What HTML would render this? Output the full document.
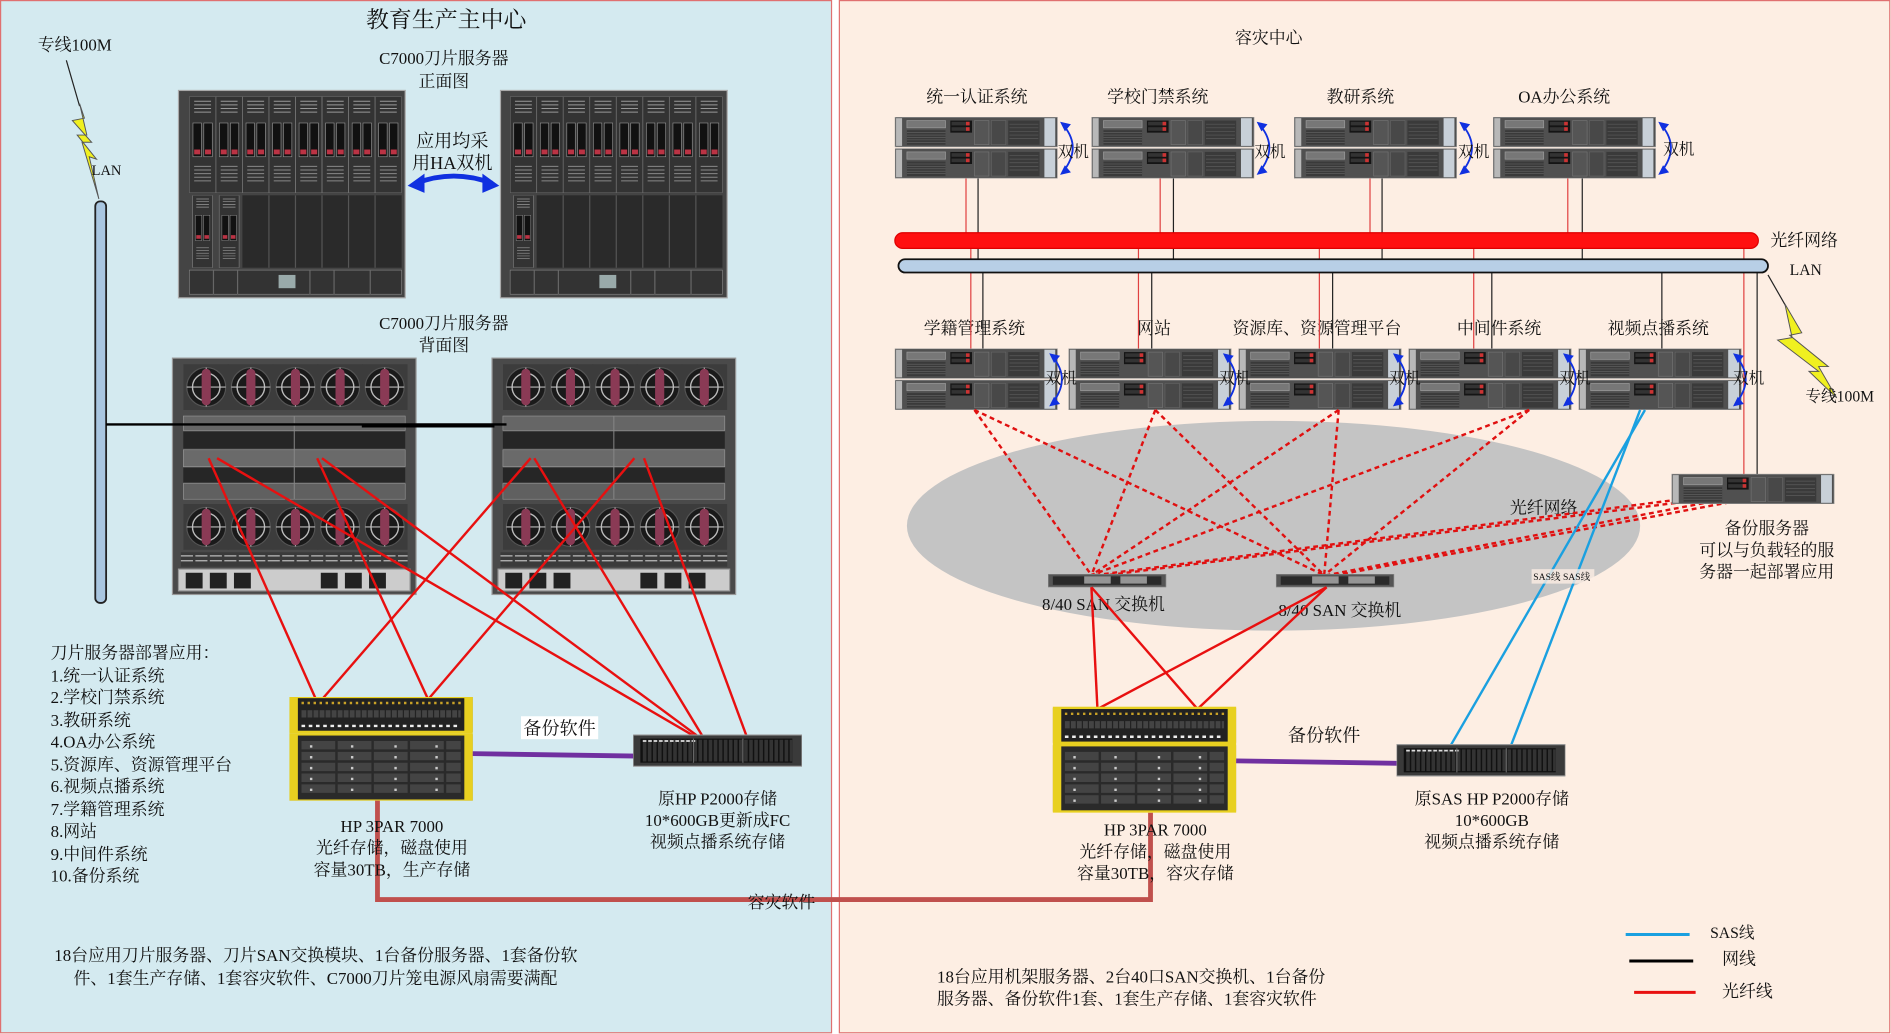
<!DOCTYPE html>
<html><head><meta charset="utf-8"><style>
html,body{margin:0;padding:0;background:#fff}
svg{display:block}
text{font-family:"Liberation Serif","Noto Serif CJK SC",serif;fill:#111}
</style></head><body>
<svg width="1891" height="1034" viewBox="0 0 1568 857.5" preserveAspectRatio="none" xmlns="http://www.w3.org/2000/svg">
<defs>
<symbol id="srv" viewBox="0 0 135 25">
<rect x="0" y="0" width="135" height="25" fill="#505050" stroke="#9a9a9a" stroke-width="1"/>
<rect x="1" y="1" width="5" height="23" fill="#b8b8b8"/>
<rect x="10" y="3" width="32" height="6" fill="#777" stroke="#999" stroke-width="0.6"/>
<rect x="10" y="11" width="32" height="12" fill="#3a3a3a"/>
<path d="M10 13h32M10 15h32M10 17h32M10 19h32M10 21h32" stroke="#666" stroke-width="0.5"/>
<rect x="46" y="3" width="18" height="10" fill="#151515"/>
<rect x="47" y="4" width="15" height="3" fill="#333"/><rect x="59" y="4" width="3" height="3" fill="#c33"/>
<rect x="47" y="8.5" width="15" height="3" fill="#333"/><rect x="59" y="8.5" width="3" height="3" fill="#c33"/>
<rect x="66" y="3" width="12" height="20" fill="#555" stroke="#777" stroke-width="0.5"/>
<rect x="80" y="3" width="12" height="20" fill="#484848" stroke="#666" stroke-width="0.5"/>
<rect x="94" y="3" width="26" height="20" fill="#3a3a3a"/>
<path d="M95 6h24M95 9h24M95 12h24M95 15h24M95 18h24" stroke="#5a5a5a" stroke-width="0.6"/>
<rect x="124" y="1" width="9" height="23" fill="#c8d0d8"/>
</symbol>
<symbol id="pair" viewBox="0 0 135 51">
<use href="#srv" x="0" y="0" width="135" height="25"/>
<use href="#srv" x="0" y="26" width="135" height="25"/>
</symbol>
<symbol id="fan" viewBox="0 0 40 40">
<rect width="40" height="40" fill="#3c3c3c"/>
<circle cx="20" cy="20" r="17" fill="#1a1a1a" stroke="#555"/>
<circle cx="20" cy="20" r="12" fill="none" stroke="#bbb" stroke-width="1.2"/>
<path d="M3 20h34M20 3v34" stroke="#bbb" stroke-width="1"/>
<rect x="16" y="4" width="8" height="32" rx="4" fill="#8a3a55"/>
</symbol>
<symbol id="blade" viewBox="0 0 22 80">
<rect width="22" height="80" fill="#333" stroke="#888" stroke-width="0.6"/>
<path d="M4 4h14M4 7h14M4 10h14M4 13h14" stroke="#999" stroke-width="0.8"/>
<rect x="3" y="22" width="7" height="28" fill="#111" stroke="#999" stroke-width="0.5"/>
<rect x="12" y="22" width="7" height="28" fill="#111" stroke="#999" stroke-width="0.5"/>
<rect x="4" y="44" width="5" height="4" fill="#b34"/><rect x="13" y="44" width="5" height="4" fill="#b34"/>
<path d="M4 58h14M4 61h14M4 64h14M4 67h14M4 70h14" stroke="#888" stroke-width="0.8"/>
</symbol>
<symbol id="tpar" viewBox="0 0 152 86">
<rect x="0" y="0" width="152" height="29" fill="#222" stroke="#e8d020" stroke-width="2"/>
<rect x="0" y="0" width="7" height="29" fill="#e8d020"/><rect x="145" y="0" width="7" height="29" fill="#e8d020"/>
<path d="M10 5h132" stroke="#c9a227" stroke-width="2" stroke-dasharray="2 3"/>
<path d="M10 14h132" stroke="#444" stroke-width="6" stroke-dasharray="4 1"/>
<path d="M10 24h132" stroke="#eee" stroke-width="2" stroke-dasharray="3 3"/>
<rect x="0" y="31" width="152" height="55" fill="#2a2a2a" stroke="#e8d020" stroke-width="2"/>
<rect x="0" y="31" width="7" height="55" fill="#e8d020"/><rect x="145" y="31" width="7" height="55" fill="#e8d020"/>
<path d="M10 40h132M10 49h132M10 58h132M10 67h132M10 76h132" stroke="#444" stroke-width="7" stroke-dasharray="28 2"/>
<path d="M18 40v40M52 40v40M88 40v40M122 40v40" stroke="#ccc" stroke-width="2" stroke-dasharray="2 7"/>
</symbol>
<symbol id="p2k" viewBox="0 0 140 26">
<rect width="140" height="26" fill="#3a3a3a" stroke="#999"/>
<rect x="6" y="3" width="126" height="20" fill="#111"/>
<path d="M8 13h124" stroke="#333" stroke-width="18" stroke-dasharray="3 1.2"/>
<path d="M8 5h44" stroke="#ddd" stroke-width="1.5" stroke-dasharray="3 1.5"/>
<path d="M50 3v20M91 3v20" stroke="#666"/>
</symbol>
<symbol id="sw" viewBox="0 0 98 11">
<rect width="98" height="11" fill="#555" stroke="#888"/>
<rect x="4" y="2" width="90" height="7" fill="#2a2a2a"/>
<rect x="30" y="2" width="22" height="6" fill="#ddd" opacity="0.6"/>
<rect x="60" y="2" width="22" height="6" fill="#ddd" opacity="0.6"/>
</symbol>
</defs>

<rect x="0.5" y="0.5" width="689" height="856" fill="#d4eaf0" stroke="#e07070" stroke-width="1"/>
<rect x="696" y="0.5" width="871" height="856" fill="#fdeee3" stroke="#e07070" stroke-width="1"/>

<text x="370" y="23" font-size="19" text-anchor="middle">教育生产主中心</text>
<text x="62" y="42" font-size="14" text-anchor="middle">专线100M</text>
<line x1="55" y1="50" x2="66" y2="88" stroke="#222" stroke-width="1"/>
<polygon points="66,86 72,112 64,112 80,132 74,130 82,165 68,118 76,118 60,100 70,98" fill="#f0f020" stroke="#555" stroke-width="0.8"/>
<text x="76" y="145" font-size="12">LAN</text>
<rect x="79" y="167" width="9" height="333" rx="4" fill="#a9c6e0" stroke="#222" stroke-width="1.5"/>

<text x="368" y="53" font-size="14" text-anchor="middle">C7000刀片服务器</text>
<text x="368" y="72" font-size="14" text-anchor="middle">正面图</text>
<text x="375" y="122" font-size="15" text-anchor="middle">应用均采</text>
<text x="375" y="140" font-size="15" text-anchor="middle">用HA双机</text>
<path d="M345 152 Q376 140 408 152" fill="none" stroke="#1030e0" stroke-width="4"/>
<polygon points="338,154 352,144 352,160" fill="#1030e0"/>
<polygon points="414,154 400,144 400,160" fill="#1030e0"/>

<g>
<rect x="148" y="75" width="188" height="172" fill="#444" stroke="#aaa"/>
<g transform="translate(157,80)">
<use href="#blade" x="0" width="22" height="80"/><use href="#blade" x="22" width="22" height="80"/><use href="#blade" x="44" width="22" height="80"/><use href="#blade" x="66" width="22" height="80"/><use href="#blade" x="88" width="22" height="80"/><use href="#blade" x="110" width="22" height="80"/><use href="#blade" x="132" width="22" height="80"/><use href="#blade" x="154" width="22" height="80"/>
<use href="#blade" x="0" y="82" width="22" height="60"/><use href="#blade" x="22" y="82" width="22" height="60"/>
<rect x="44" y="82" width="132" height="60" fill="#2a2a2a"/>
<path d="M66 82v60M88 82v60M110 82v60M132 82v60M154 82v60" stroke="#555"/>
<rect x="0" y="144" width="176" height="20" fill="#333" stroke="#888" stroke-width="0.5"/>
<path d="M20 144v20M40 144v20M100 144v20M120 144v20M150 144v20" stroke="#666"/>
<rect x="74" y="148" width="14" height="11" fill="#9aa"/>
</g>
</g>
<g>
<rect x="415" y="75" width="188" height="172" fill="#444" stroke="#aaa"/>
<g transform="translate(423,80)">
<use href="#blade" x="0" width="22" height="80"/><use href="#blade" x="22" width="22" height="80"/><use href="#blade" x="44" width="22" height="80"/><use href="#blade" x="66" width="22" height="80"/><use href="#blade" x="88" width="22" height="80"/><use href="#blade" x="110" width="22" height="80"/><use href="#blade" x="132" width="22" height="80"/><use href="#blade" x="154" width="22" height="80"/>
<use href="#blade" x="0" y="82" width="22" height="60"/>
<rect x="22" y="82" width="154" height="60" fill="#2a2a2a"/>
<path d="M44 82v60M66 82v60M88 82v60M110 82v60M132 82v60M154 82v60" stroke="#555"/>
<rect x="0" y="144" width="176" height="20" fill="#333" stroke="#888" stroke-width="0.5"/>
<path d="M20 144v20M40 144v20M100 144v20M120 144v20M150 144v20" stroke="#666"/>
<rect x="74" y="148" width="14" height="11" fill="#9aa"/>
</g>
</g>

<text x="368" y="273" font-size="14" text-anchor="middle">C7000刀片服务器</text>
<text x="368" y="291" font-size="14" text-anchor="middle">背面图</text>

<g id="bk1">
<rect x="143" y="297" width="202" height="196" fill="#4a4a4a" stroke="#999"/>
<g transform="translate(152,302)">
<use href="#fan" x="0" width="38" height="38"/><use href="#fan" x="37" width="38" height="38"/><use href="#fan" x="74" width="38" height="38"/><use href="#fan" x="111" width="38" height="38"/><use href="#fan" x="148" width="38" height="38"/>
</g>
<rect x="152" y="345" width="184" height="12" fill="#666" stroke="#999" stroke-width="0.5"/>
<rect x="152" y="358" width="184" height="14" fill="#262626"/>
<rect x="152" y="373" width="184" height="14" fill="#6a6a6a" stroke="#999" stroke-width="0.5"/>
<rect x="152" y="388" width="184" height="12" fill="#262626"/>
<rect x="152" y="401" width="184" height="13" fill="#606060" stroke="#999" stroke-width="0.5"/>
<line x1="244" y1="345" x2="244" y2="414" stroke="#888" stroke-width="0.8"/>
<g transform="translate(152,418)">
<use href="#fan" x="0" width="38" height="38"/><use href="#fan" x="37" width="38" height="38"/><use href="#fan" x="74" width="38" height="38"/><use href="#fan" x="111" width="38" height="38"/><use href="#fan" x="148" width="38" height="38"/>
</g>
<rect x="150" y="458" width="188" height="12" fill="#3a3a3a"/>
<path d="M150 461h188M150 465h188" stroke="#bbb" stroke-width="1" stroke-dasharray="10 2"/>
<rect x="148" y="472" width="192" height="18" fill="#ccc" stroke="#999"/>
<rect x="154" y="475" width="14" height="13" fill="#222"/><rect x="174" y="475" width="14" height="13" fill="#222"/><rect x="194" y="475" width="14" height="13" fill="#222"/>
<rect x="266" y="475" width="14" height="13" fill="#222"/><rect x="286" y="475" width="14" height="13" fill="#222"/><rect x="306" y="475" width="14" height="13" fill="#222"/>
</g>
<use href="#bk1" transform="translate(265,0)"/>

<line x1="88" y1="352" x2="420" y2="352" stroke="#000" stroke-width="2"/>
<line x1="300" y1="353" x2="410" y2="353" stroke="#000" stroke-width="3"/>

<g stroke="#e81010" stroke-width="2" fill="none">
<line x1="173" y1="380" x2="262" y2="580"/>
<line x1="263" y1="380" x2="355" y2="580"/>
<line x1="440" y1="380" x2="267" y2="580"/>
<line x1="526" y1="380" x2="355" y2="580"/>
<line x1="180" y1="380" x2="580" y2="613"/>
<line x1="267" y1="380" x2="582" y2="613"/>
<line x1="443" y1="380" x2="584" y2="613"/>
<line x1="534" y1="380" x2="620" y2="613"/>
</g>

<use href="#tpar" x="240" y="578" width="152" height="86"/>
<line x1="392" y1="625" x2="527" y2="627" stroke="#7030a0" stroke-width="4"/>
<rect x="432" y="594" width="64" height="19" fill="#fff"/>
<text x="464" y="609" font-size="15" text-anchor="middle">备份软件</text>
<use href="#p2k" x="525" y="609" width="140" height="27"/>
<text x="595" y="667" font-size="14" text-anchor="middle">原HP P2000存储</text>
<text x="595" y="685" font-size="14" text-anchor="middle">10*600GB更新成FC</text>
<text x="595" y="703" font-size="14" text-anchor="middle">视频点播系统存储</text>

<path d="M313 664 V746 H954 V674" fill="none" stroke="#c0504d" stroke-width="4"/>
<text x="325" y="690" font-size="14" text-anchor="middle">HP 3PAR 7000</text>
<text x="325" y="708" font-size="14" text-anchor="middle">光纤存储，磁盘使用</text>
<text x="325" y="726" font-size="14" text-anchor="middle">容量30TB，生产存储</text>
<text x="648" y="753" font-size="14" text-anchor="middle">容灾软件</text>

<g font-size="14">
<text x="42" y="546">刀片服务器部署应用：</text>
<text x="42" y="565">1.统一认证系统</text>
<text x="42" y="583">2.学校门禁系统</text>
<text x="42" y="602">3.教研系统</text>
<text x="42" y="620">4.OA办公系统</text>
<text x="42" y="639">5.资源库、资源管理平台</text>
<text x="42" y="657">6.视频点播系统</text>
<text x="42" y="676">7.学籍管理系统</text>
<text x="42" y="694">8.网站</text>
<text x="42" y="713">9.中间件系统</text>
<text x="42" y="731">10.备份系统</text>
<text x="45" y="797">18台应用刀片服务器、刀片SAN交换模块、1台备份服务器、1套备份软</text>
<text x="61" y="816">件、1套生产存储、1套容灾软件、C7000刀片笼电源风扇需要满配</text>
</g>

<text x="1052" y="36" font-size="14" text-anchor="middle">容灾中心</text>
<g font-size="14" text-anchor="middle">
<text x="810" y="85">统一认证系统</text>
<text x="960" y="85">学校门禁系统</text>
<text x="1128" y="85">教研系统</text>
<text x="1297" y="85">OA办公系统</text>
<text x="808" y="277">学籍管理系统</text>
<text x="957" y="277">网站</text>
<text x="1092" y="277">资源库、资源管理平台</text>
<text x="1243" y="277">中间件系统</text>
<text x="1375" y="277">视频点播系统</text>
</g>

<g stroke-width="1">
<path d="M801 148V199M962 148V199M1136 148V199M1300 148V199" stroke="#e04040"/>
<path d="M811 148V221M973 148V221M1146 148V221M1312 148V221" stroke="#222"/>
<path d="M805 205V300M944 205V300M1094 205V300M1222 205V300M1446 205V395" stroke="#e04040"/>
<path d="M815 226V300M955 226V300M1105 226V300M1237 226V300M1378 226V300M1457 226V395" stroke="#222"/>
</g>
<rect x="742" y="193" width="716" height="13" rx="6.5" fill="#ff1010" stroke="#d00" stroke-width="1"/>
<rect x="745" y="215" width="721" height="11" rx="5.5" fill="#b8cfe6" stroke="#111" stroke-width="1.5"/>
<text x="1468" y="204" font-size="14">光纤网络</text>
<text x="1484" y="228" font-size="13">LAN</text>
<line x1="1466" y1="228" x2="1482" y2="256" stroke="#222" stroke-width="1"/>
<polygon points="1480,252 1494,276 1484,278 1516,304 1508,304 1523,330 1500,308 1508,308 1474,282 1486,280" fill="#f0f020" stroke="#555" stroke-width="0.8"/>
<text x="1497" y="333" font-size="13">专线100M</text>

<g>
<use href="#pair" x="742" y="97" width="135" height="51"/>
<use href="#pair" x="905" y="97" width="135" height="51"/>
<use href="#pair" x="1073" y="97" width="135" height="51"/>
<use href="#pair" x="1238" y="97" width="135" height="51"/>
<use href="#pair" x="742" y="289" width="135" height="51"/>
<use href="#pair" x="886" y="289" width="135" height="51"/>
<use href="#pair" x="1027" y="289" width="135" height="51"/>
<use href="#pair" x="1168" y="289" width="135" height="51"/>
<use href="#pair" x="1309" y="289" width="135" height="51"/>
</g>
<g fill="none" stroke="#1030e0" stroke-width="1.5">
<path d="M881 103 Q898 122 881 143"/><path d="M1044 103 Q1061 122 1044 143"/><path d="M1212 103 Q1229 122 1212 143"/><path d="M1377 103 Q1394 122 1377 143"/>
<path d="M872 295 Q889 314 872 335"/><path d="M1016 295 Q1033 314 1016 335"/><path d="M1157 295 Q1174 314 1157 335"/><path d="M1298 295 Q1315 314 1298 335"/><path d="M1439 295 Q1456 314 1439 335"/>
</g>
<g fill="#1030e0">
<polygon points="879,101 888,103 883,109"/><polygon points="879,145 888,143 883,137"/>
<polygon points="1042,101 1051,103 1046,109"/><polygon points="1042,145 1051,143 1046,137"/>
<polygon points="1210,101 1219,103 1214,109"/><polygon points="1210,145 1219,143 1214,137"/>
<polygon points="1375,101 1384,103 1379,109"/><polygon points="1375,145 1384,143 1379,137"/>
<polygon points="870,293 879,295 874,301"/><polygon points="870,337 879,335 874,329"/>
<polygon points="1014,293 1023,295 1018,301"/><polygon points="1014,337 1023,335 1018,329"/>
<polygon points="1155,293 1164,295 1159,301"/><polygon points="1155,337 1164,335 1159,329"/>
<polygon points="1296,293 1305,295 1300,301"/><polygon points="1296,337 1305,335 1300,329"/>
<polygon points="1437,293 1446,295 1441,301"/><polygon points="1437,337 1446,335 1441,329"/>
</g>
<g font-size="13">
<text x="877" y="130">双机</text><text x="1040" y="130">双机</text><text x="1209" y="130">双机</text><text x="1379" y="128">双机</text>
<text x="867" y="318">双机</text><text x="1011" y="318">双机</text><text x="1152" y="318">双机</text><text x="1293" y="318">双机</text><text x="1437" y="318">双机</text>
</g>

<ellipse cx="1056" cy="436" rx="304" ry="87" fill="#c4c4c4"/>
<text x="1280" y="426" font-size="14" text-anchor="middle">光纤网络</text>

<g stroke="#e01010" stroke-width="2" stroke-dasharray="4 3" fill="none">
<line x1="808" y1="340" x2="905" y2="477"/><line x1="808" y1="340" x2="1098" y2="477"/>
<line x1="958" y1="340" x2="905" y2="477"/><line x1="958" y1="340" x2="1098" y2="477"/>
<line x1="1110" y1="340" x2="905" y2="477"/><line x1="1110" y1="340" x2="1098" y2="477"/>
<line x1="1268" y1="340" x2="905" y2="477"/><line x1="1268" y1="340" x2="1098" y2="477"/>
<line x1="1440" y1="408" x2="908" y2="477"/><line x1="1445" y1="410" x2="918" y2="477"/>
<line x1="1440" y1="412" x2="1100" y2="477"/><line x1="1448" y1="414" x2="1108" y2="477"/>
</g>
<use href="#sw" x="869" y="476" width="98" height="11"/>
<use href="#sw" x="1058" y="476" width="98" height="11"/>
<text x="915" y="506" font-size="14" text-anchor="middle">8/40 SAN 交换机</text>
<text x="1111" y="511" font-size="14" text-anchor="middle">8/40 SAN 交换机</text>

<use href="#srv" x="1386" y="393" width="135" height="25"/>
<text x="1465" y="443" font-size="14" text-anchor="middle">备份服务器</text>
<text x="1465" y="461" font-size="14" text-anchor="middle">可以与负载轻的服</text>
<text x="1465" y="479" font-size="14" text-anchor="middle">务器一起部署应用</text>

<g stroke="#1aa0e0" stroke-width="2">
<line x1="1364" y1="340" x2="1203" y2="618"/>
<line x1="1360" y1="340" x2="1253" y2="618"/>
</g>
<rect x="1270" y="472" width="52" height="12" fill="#fdeee3" opacity="0.8"/>
<text x="1295" y="481" font-size="8" text-anchor="middle">SAS线 SAS线</text>

<g stroke="#e81010" stroke-width="2">
<line x1="905" y1="487" x2="910" y2="588"/><line x1="905" y1="487" x2="993" y2="588"/>
<line x1="1100" y1="487" x2="910" y2="588"/><line x1="1100" y1="487" x2="993" y2="588"/>
</g>
<use href="#tpar" x="873" y="586" width="152" height="88"/>
<line x1="1025" y1="631" x2="1160" y2="633" stroke="#7030a0" stroke-width="4"/>
<rect x="1064" y="600" width="68" height="20" fill="#fdeee3"/>
<text x="1098" y="615" font-size="15" text-anchor="middle">备份软件</text>
<use href="#p2k" x="1158" y="617" width="140" height="27"/>
<text x="1237" y="667" font-size="14" text-anchor="middle">原SAS HP P2000存储</text>
<text x="1237" y="685" font-size="14" text-anchor="middle">10*600GB</text>
<text x="1237" y="703" font-size="14" text-anchor="middle">视频点播系统存储</text>
<text x="958" y="693" font-size="14" text-anchor="middle">HP 3PAR 7000</text>
<text x="958" y="711" font-size="14" text-anchor="middle">光纤存储，磁盘使用</text>
<text x="958" y="729" font-size="14" text-anchor="middle">容量30TB，容灾存储</text>

<line x1="1348" y1="775" x2="1401" y2="775" stroke="#1aa0e0" stroke-width="2.5"/>
<text x="1418" y="778" font-size="13">SAS线</text>
<line x1="1351" y1="797" x2="1404" y2="797" stroke="#000" stroke-width="2.5"/>
<text x="1428" y="800" font-size="14">网线</text>
<line x1="1355" y1="823" x2="1406" y2="823" stroke="#e81010" stroke-width="2.5"/>
<text x="1428" y="827" font-size="14">光纤线</text>

<text x="777" y="815" font-size="14">18台应用机架服务器、2台40口SAN交换机、1台备份</text>
<text x="777" y="833" font-size="14">服务器、备份软件1套、1套生产存储、1套容灾软件</text>
</svg>
</body></html>
